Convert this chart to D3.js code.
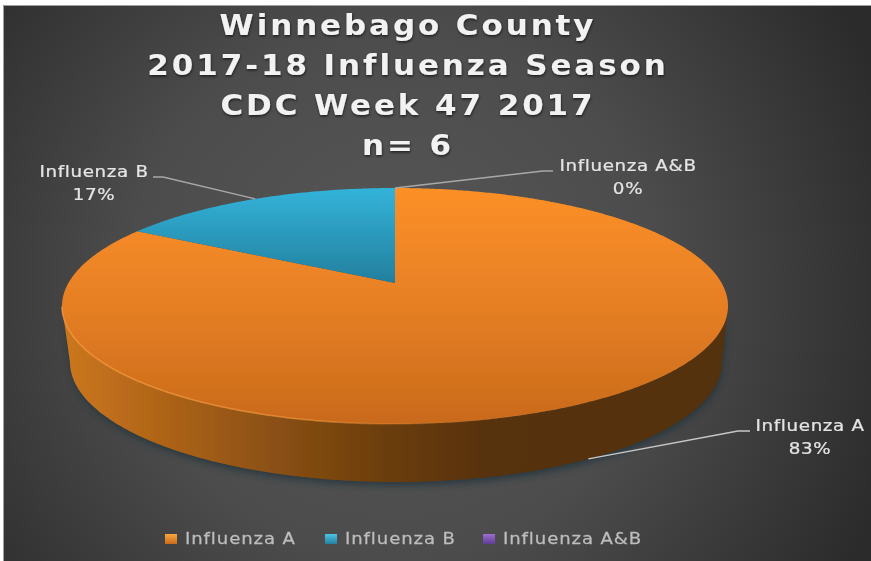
<!DOCTYPE html>
<html>
<head>
  <script src="https://d3js.org/d3.v7.js"></script>
  <style>
    html, body {
      margin: 0px;
      padding: 0px;
      background: #fff;
    }
    text {
      font-family: "DejaVu Sans", sans-serif;
    }
  </style>
</head>
<body>
  <div id="chart"></div>
  <script>
    // data: 6 specimens in the week
    const categories = ["Influenza A", "Influenza B", "Influenza A&B"];
    const counts = [5, 1, 0];
    const percentLabels = ["83%", "17%", "0%"];
    const titleLines = ["Winnebago County", "2017-18 Influenza Season", "CDC Week 47 2017", "n= 6"];

    const width = 871, height = 561;

    const svg = d3.select("#chart").append("svg")
      .attr("width", width)
      .attr("height", height)
      .style("display", "block");

    const defs = svg.append("defs");

    function linearGradient(id, x1, y1, x2, y2, stops) {
      const g = defs.append("linearGradient")
        .attr("id", id)
        .attr("gradientUnits", "userSpaceOnUse")
        .attr("x1", x1).attr("y1", y1).attr("x2", x2).attr("y2", y2);
      stops.forEach(s => g.append("stop")
        .attr("offset", s[0]).attr("stop-color", s[1]).attr("stop-opacity", s[2] === undefined ? 1 : s[2]));
    }

    const bg = defs.append("radialGradient")
      .attr("id", "bg")
      .attr("gradientUnits", "userSpaceOnUse")
      .attr("cx", 395).attr("cy", 290).attr("r", 530);
    bg.append("stop").attr("offset", 0).attr("stop-color", "#575757");
    bg.append("stop").attr("offset", 0.5).attr("stop-color", "#4c4c4c");
    bg.append("stop").attr("offset", 1).attr("stop-color", "#2b2b2b");

    linearGradient("topA", 0, 188, 0, 424, [[0, "#fc9028"], [0.5, "#e67f24"], [1, "#c96a1b"]]);
    linearGradient("topB", 0, 188, 0, 283, [[0, "#33b3da"], [1, "#237f9d"]]);
    linearGradient("wallA", 62, 0, 728, 0, [[0, "#cb771f"], [0.1, "#b96a1a"], [0.3, "#8e5213"], [0.48, "#6c3e0e"], [0.65, "#56300b"], [1, "#52300c"]]);
    linearGradient("rim", 62, 0, 728, 0, [[0, "#ffa040", 0.7], [0.35, "#ffa040", 0.6], [0.55, "#ffa040", 0.1], [1, "#ffa040", 0]]);
    linearGradient("swA", 0, 0, 0, 1, [[0, "#f9a53f"], [1, "#c96a1b"]]);
    linearGradient("swB", 0, 0, 0, 1, [[0, "#4cc4e6"], [1, "#23809e"]]);
    linearGradient("swC", 0, 0, 0, 1, [[0, "#9a6fd0"], [1, "#5f3c96"]]);
    defs.selectAll("#swA,#swB,#swC").attr("gradientUnits", "objectBoundingBox");

    const soft = defs.append("filter").attr("id", "soft");
    soft.append("feGaussianBlur").attr("stdDeviation", 0.6);

    const shadowBlur = defs.append("filter").attr("id", "shadowBlur")
      .attr("x", "-10%").attr("y", "-10%").attr("width", "120%").attr("height", "120%");
    shadowBlur.append("feGaussianBlur").attr("stdDeviation", 3);

    const titleShadow = defs.append("filter").attr("id", "titleShadow")
      .attr("x", "-5%").attr("y", "-20%").attr("width", "110%").attr("height", "150%");
    titleShadow.append("feDropShadow")
      .attr("dx", 0.5).attr("dy", 1.5).attr("stdDeviation", 1.2)
      .attr("flood-color", "#000").attr("flood-opacity", 0.6);

    // picture area, white strip stays on top and left
    svg.append("rect")
      .attr("x", 3).attr("y", 5)
      .attr("width", width - 3).attr("height", height - 5)
      .attr("fill", "url(#bg)");
    svg.append("path")
      .attr("d", `M3.5,${height}V5.5H${width}`)
      .attr("fill", "none")
      .attr("stroke", "#a0a0a0")
      .attr("stroke-width", 1);

    const chart = svg.append("g").attr("filter", "url(#soft)");

    /*
    PIE GEOMETRY
    The disc is tilted, so a point on the unit circle goes through a small
    perspective projection: the pie centre lands above the middle of the ellipse.
    */
    const pieGeo = {cx: 395, cy: 306, rx: 333, ry: 118, persp: 0.195, shift: 23};
    const wallGeo = {cx: 396, cy: 362, rx: 326, ry: 120};

    function project(angle, r = 1) {
      const u = r * Math.sin(angle), v = r * Math.cos(angle);
      const w = 1 + pieGeo.persp * v;
      const rx0 = pieGeo.rx * Math.sqrt(1 - pieGeo.persp * pieGeo.persp);
      return [
        pieGeo.cx + rx0 * u / w,
        pieGeo.cy + (-pieGeo.ry * v - pieGeo.shift) / w
      ];
    }

    function toWall(p) {
      return [
        wallGeo.cx + (p[0] - pieGeo.cx) * wallGeo.rx / pieGeo.rx,
        wallGeo.cy + (p[1] - pieGeo.cy) * wallGeo.ry / pieGeo.ry
      ];
    }

    const arcs = d3.pie().sort(null).value(d => d)(counts);
    const line = d3.line();

    function rimPoints(a) {
      const n = Math.max(2, Math.ceil((a.endAngle - a.startAngle) * 120));
      return d3.range(n + 1).map(i => project(a.startAngle + (a.endAngle - a.startAngle) * i / n));
    }

    // front part of the rim of the big slice carries the wall
    const front = rimPoints(arcs[0]).filter(p => p[1] >= pieGeo.cy);
    const wallPath = line(front.concat(front.map(toWall).reverse())) + "Z";

    svg.insert("path", "g")
      .attr("d", wallPath)
      .attr("transform", "translate(1,4)")
      .attr("fill", "#22343c")
      .attr("opacity", 0.75)
      .attr("filter", "url(#shadowBlur)");

    chart.append("path")
      .attr("d", wallPath)
      .attr("fill", "url(#wallA)");

    const sliceFills = ["url(#topA)", "url(#topB)", "#6a44a0"];
    chart.selectAll("path.slice")
      .data(arcs.filter(a => a.value > 0))
      .enter()
      .append("path")
        .attr("class", "slice")
        .attr("d", a => line([project(0, 0)].concat(rimPoints(a))) + "Z")
        .attr("fill", a => sliceFills[a.index]);

    chart.append("path")
      .attr("d", line(front))
      .attr("fill", "none")
      .attr("stroke", "url(#rim)")
      .attr("stroke-width", 1.5);

    /*
    DATA LABELS AND LEADER LINES
    Leaders start at the middle of each slice rim.
    The source picture is stretched sideways, so text gets a scale in x too.
    */
    const labelLayout = [
      {x: 810, y: 431, elbow: [738, 431], end: [750, 431], wall: true},
      {x: 94, y: 177, elbow: [163, 177], end: [153, 177], wall: false},
      {x: 628, y: 171, elbow: [543, 171], end: [553, 171], wall: false}
    ];

    arcs.forEach((a, i) => {
      const mid = (a.startAngle + a.endAngle) / 2;
      const l = labelLayout[i];
      let start = project(mid);
      if (l.wall) start = toWall(start);
      chart.append("path")
        .attr("d", line([start, l.elbow, l.end]))
        .attr("fill", "none")
        .attr("stroke", i === 0 ? "#c8c8c8" : "#a8a8a8")
        .attr("stroke-width", 1.3);

      const t = chart.append("text")
        .attr("transform", `translate(${l.x},${l.y}) scale(1.18,1)`)
        .attr("text-anchor", "middle")
        .attr("fill", "#e4e4e4")
        .attr("stroke", "#e4e4e4")
        .attr("stroke-width", 0.25)
        .attr("font-size", 15.5)
        .attr("letter-spacing", 0.55);
      t.append("tspan").attr("x", 0).attr("y", 0).text(categories[i]);
      t.append("tspan").attr("x", 0).attr("y", 23).text(percentLabels[i]);
    });

    // title
    const titleY = d3.scalePoint().domain(titleLines).range([35, 155]);
    chart.append("g").attr("filter", "url(#titleShadow)")
      .selectAll("text")
      .data(titleLines)
      .enter()
      .append("text")
        .attr("transform", d => `translate(408,${titleY(d)}) scale(1.126,1)`)
        .attr("text-anchor", "middle")
        .attr("fill", "#f2f2f2")
        .attr("font-size", 27.5)
        .attr("font-weight", 700)
        .attr("letter-spacing", 2.6)
        .text(d => d);

    // legend
    const legendLayout = [165, 325, 483];
    const legendFills = ["url(#swA)", "url(#swB)", "url(#swC)"];
    const legend = chart.selectAll("g.legend")
      .data(categories)
      .enter()
      .append("g")
        .attr("class", "legend")
        .attr("transform", (d, i) => `translate(${legendLayout[i]},534)`);
    legend.append("rect")
      .attr("width", 12).attr("height", 10)
      .attr("fill", (d, i) => legendFills[i]);
    legend.append("text")
      .attr("transform", "translate(20,10) scale(1.13,1)")
      .attr("fill", "#bdbdbd")
      .attr("stroke", "#bdbdbd")
      .attr("stroke-width", 0.25)
      .attr("font-size", 16)
      .attr("letter-spacing", 0.8)
      .text(d => d);
  </script>
</body>
</html>
